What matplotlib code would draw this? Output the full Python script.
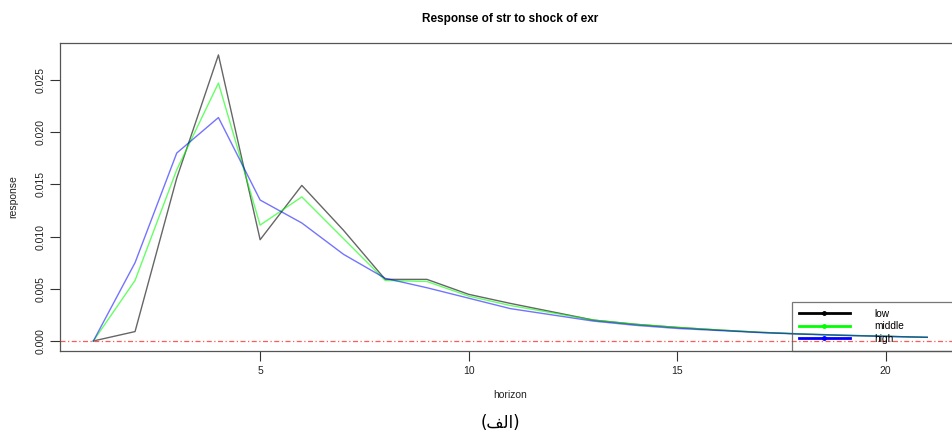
import matplotlib
matplotlib.use("Agg")
import matplotlib.pyplot as plt
from matplotlib.lines import Line2D

plt.rcParams['font.family'] = ['Liberation Sans', 'DejaVu Sans']

# impulse response values
horizon = list(range(1, 22))
low = [0.0, 0.0009, 0.0156, 0.0274, 0.0097, 0.0149, 0.0106, 0.0059, 0.0059, 0.00447,
       0.0036, 0.0028, 0.0020, 0.0016, 0.0013, 0.00105, 0.00083, 0.00067, 0.00055,
       0.00045, 0.00035]
middle = [0.0, 0.0058, 0.0164, 0.0247, 0.0111, 0.0138, 0.0098, 0.0058, 0.0057, 0.0043,
          0.0034, 0.0027, 0.0020, 0.0016, 0.0013, 0.00105, 0.00083, 0.00067, 0.00055,
          0.00045, 0.00035]
high = [0.0, 0.0075, 0.0180, 0.0214, 0.0135, 0.0113, 0.0083, 0.0060, 0.0051, 0.0041,
        0.0031, 0.0025, 0.0019, 0.0015, 0.0012, 0.0010, 0.0008, 0.00065, 0.00053,
        0.00044, 0.00035]
series_names = ["low", "middle", "high"]
series_colors = ["black", "#00ff00", "blue"]
yticks = [0.000, 0.005, 0.010, 0.015, 0.020, 0.025]
xticks = [5, 10, 15, 20]

fig = plt.figure(figsize=(9.52, 4.34), dpi=100)
ax = fig.add_axes([60 / 952, 83 / 434, 900.6 / 952, 308 / 434])

alphas = [0.6, 0.6, 0.55]
for vals, col, a in zip([low, middle, high], series_colors, alphas):
    ax.plot(horizon, vals, color=col, lw=1.0, alpha=a)

ax.axhline(0, color="#ff5a5a", lw=0.9, ls=(0, (4, 2, 1, 2)))

ax.set_xlim(0.2, 21.8)
ax.set_ylim(-0.00096, 0.02854)
ax.set_xticks(xticks)
ax.set_yticks(yticks)
ax.set_yticklabels(["%.3f" % v for v in yticks], rotation=90, va="center")
ax.tick_params(axis="both", direction="out", length=7, width=0.8, labelsize=7.5,
               color="#333333", labelcolor="#222222")
ax.tick_params(axis="x", pad=4)
ax.tick_params(axis="y", pad=3)
for s in ax.spines.values():
    s.set_color("#555555")
    s.set_linewidth(0.9)

ax.set_xlabel("horizon", fontsize=7.5, color="#222222", labelpad=10)
ax.set_ylabel("response", fontsize=7.5, color="#222222", labelpad=13)
ax.set_title("Response of str to shock of exr", fontsize=8.5, fontweight="bold",
             pad=15)

handles = [Line2D([0], [0], color=c, lw=2, marker="o", markersize=2.5)
           for c in series_colors]
leg_x0 = (792 - 60) / 900.6
leg = ax.legend(handles, series_names, loc="lower left", mode="expand",
                bbox_to_anchor=(leg_x0, 0, 1 - leg_x0, 0.16), fontsize=7.3,
                frameon=True, fancybox=False, edgecolor="#555555",
                borderaxespad=0, handlelength=5.0, handletextpad=2.4,
                labelspacing=0.25, borderpad=0.7)
leg.get_frame().set_linewidth(0.9)
leg.get_frame().set_facecolor("none")

# caption "(الف)" given in presentation forms, visual order
fig.text(500 / 952, 1 - 423 / 434, "(\uFED2\uFEDF\uFE8D)", ha="center",
         va="center", fontsize=12, family=["DejaVu Sans"])

fig.savefig("out.png", dpi=100)
